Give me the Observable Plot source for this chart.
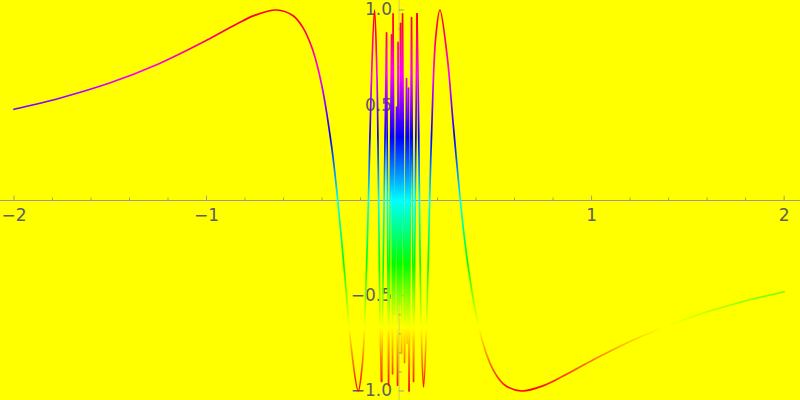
<!DOCTYPE html>
<html>
<head>
<meta charset="utf-8">
<script src="https://cdn.jsdelivr.net/npm/d3@7"></script>
<script src="https://cdn.jsdelivr.net/npm/@observablehq/plot@0.6"></script>
<style>
  html, body { margin: 0; padding: 0; background: #ffff00; }
  #chart { width: 800px; height: 400px; }
</style>
</head>
<body>
<div id="chart"></div>
<script>
// Left branch
const leftX = [-2, -1.75, -1.5, -1.25, -1, -0.85, -0.75, -0.6366, -0.55, -0.5, -0.45, -0.4, -0.35, -0.3183, -0.28, -0.25, -0.2122, -0.19, -0.17, -0.159, -0.145, -0.1273, -0.115, -0.106, -0.098, -0.0908];
const leftY = [0.479, 0.541, 0.618, 0.717, 0.841, 0.923, 0.972, 1, 0.970, 0.909, 0.795, 0.598, 0.281, 0, -0.416, -0.757, -1, -0.851, -0.385, 0, 0.578, 1, 0.664, 0, -0.70, -0.95];
// Dense centre spikes
const innerX = [-0.0908, -0.0649, -0.0545, -0.0389, -0.0337, -0.0311, -0.0233, -0.0130, -0.0078, -0.0052, 0.0026, 0.0078, 0.0130, 0.0182, 0.0285, 0.0389, 0.0415, 0.0493, 0.0519, 0.0649, 0.0752, 0.0934];
const innerY = [-0.95, 0.88, -0.97, 0.87, -0.91, 0.98, -0.6, 0.49, -0.97, 0.83, -0.55, 0.93, -0.8, 0.98, -0.85, 0.64, -0.75, 0.59, -1, 0.96, -0.95, 0.98];
// Right branch
const rightX = [0.0934, 0.1, 0.106, 0.115, 0.1273, 0.145, 0.159, 0.17, 0.19, 0.2122, 0.25, 0.28, 0.3183, 0.35, 0.4, 0.45, 0.5, 0.55, 0.6366, 0.75, 0.85, 1, 1.25, 1.5, 1.75, 2];
const rightY = [0.98, 0.544, 0, -0.664, -0.98, -0.578, 0, 0.385, 0.851, 1, 0.757, 0.416, 0, -0.281, -0.598, -0.795, -0.909, -0.970, -1, -0.972, -0.923, -0.841, -0.717, -0.618, -0.541, -0.479];

const xMajor = [-2, -1, 1, 2];
const xMajorLabels = ["\u22122", "\u22121", "1", "2"];
const xMinor = [-1.8, -1.6, -1.4, -1.2, -0.8, -0.6, -0.4, -0.2, 0.2, 0.4, 0.6, 0.8, 1.2, 1.4, 1.6, 1.8];
const yMajor = [-1, -0.5, 0.5, 1];
const yMajorLabels = ["\u22121.0", "\u22120.5", "0.5", "1.0"];
const yMinor = [-0.9, -0.8, -0.7, -0.6, -0.4, -0.3, -0.2, -0.1, 0.1, 0.2, 0.3, 0.4, 0.6, 0.7, 0.8, 0.9];

const zip = (xs, ys) => xs.map((x, i) => ({x, y: ys[i]}));
const leftData = zip(leftX, leftY);
const innerData = zip(innerX, innerY);
const rightData = zip(rightX, rightY);

function hueGradient(index, scales) {
  const yLo = scales && scales.y ? scales.y(-1) : 390.5;
  const yHi = scales && scales.y ? scales.y(1) : 9.5;
  const defs = d3.create("svg:defs");
  const g = defs.append("linearGradient")
    .attr("id", "hueGrad")
    .attr("gradientUnits", "userSpaceOnUse")
    .attr("x1", 0).attr("x2", 0)
    .attr("y1", yLo).attr("y2", yHi);
  for (let i = 0; i <= 24; i++) {
    g.append("stop").attr("offset", i / 24).attr("stop-color", d3.hsl(i * 15, 1, 0.5).formatHex());
  }
  return defs.node();
}

const lineOpts = {x: "x", y: "y", stroke: "url(#hueGrad)", strokeWidth: 1.7, strokeLinejoin: "round", strokeLinecap: "round"};
const axisColor = "#9a9a9a";
const labelColor = "#5e5e5e";

const chart = Plot.plot({
  width: 800,
  height: 400,
  margin: 0,
  x: {domain: [-2.07, 2.085], axis: null},
  y: {domain: [-1.05, 1.05], axis: null},
  style: {background: "#ffff00", overflow: "visible", fontFamily: "DejaVu Sans"},
  marks: [
    hueGradient,
    Plot.ruleY([0], {stroke: axisColor, strokeWidth: 1}),
    Plot.ruleX([0], {stroke: axisColor, strokeWidth: 0.8, strokeOpacity: 0.6}),
    Plot.ruleX(xMajor, {x: d => d, y1: 0, y2: 0.023, stroke: axisColor}),
    Plot.ruleX(xMinor, {x: d => d, y1: 0, y2: 0.013, stroke: axisColor}),
    Plot.ruleY(yMajor, {y: d => d, x1: 0, x2: 0.028, stroke: axisColor}),
    Plot.ruleY(yMinor, {y: d => d, x1: 0, x2: 0.016, stroke: axisColor}),
    Plot.text(xMajor, {x: d => d, y: 0, text: (d, i) => xMajorLabels[i], dy: 15, fontSize: 17, fill: labelColor}),
    Plot.text(yMajor, {x: 0, y: d => d, text: (d, i) => yMajorLabels[i], dx: -7, textAnchor: "end", fontSize: 17, fill: labelColor}),
    Plot.line(leftData, {...lineOpts, curve: "catmull-rom"}),
    Plot.line(innerData, {...lineOpts, curve: "linear"}),
    Plot.line(rightData, {...lineOpts, curve: "catmull-rom"})
  ]
});
document.getElementById("chart").appendChild(chart);
</script>
</body>
</html>
